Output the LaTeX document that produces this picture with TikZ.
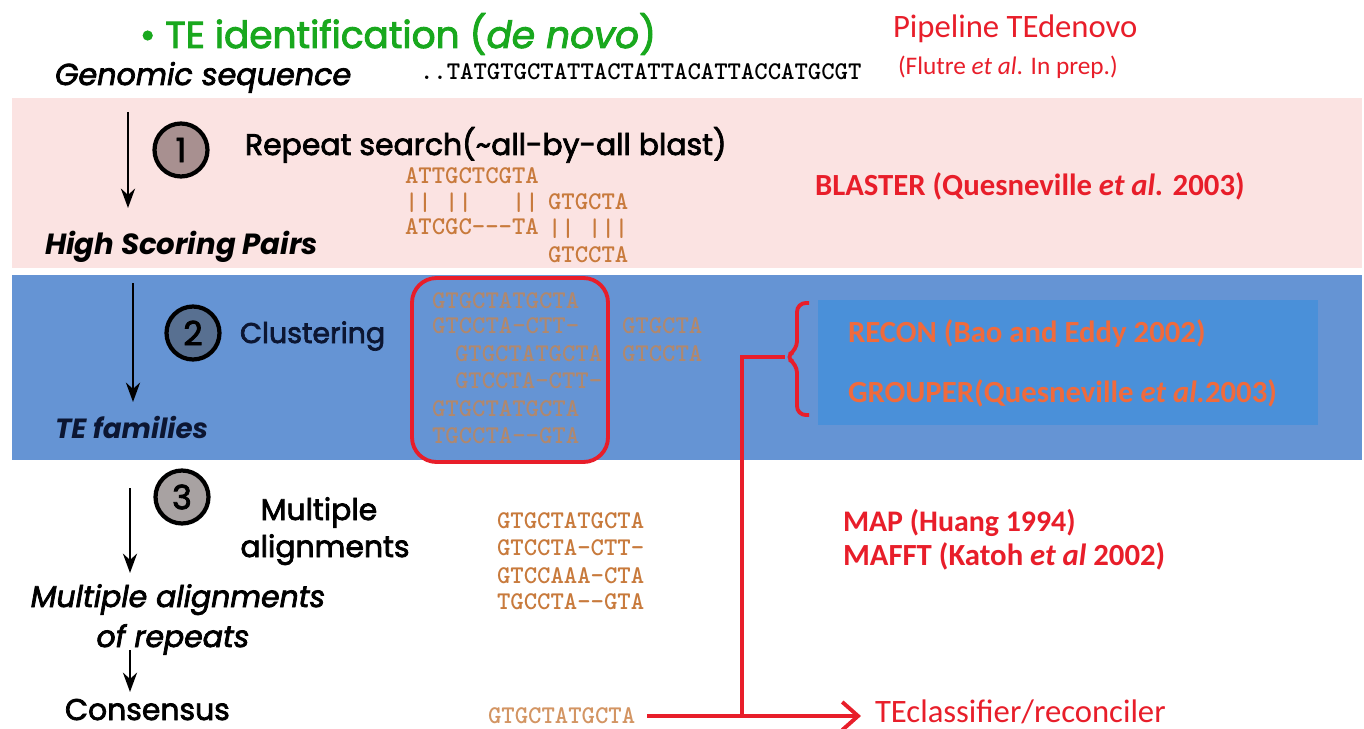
\documentclass[tikz,border=0pt]{standalone}
\usepackage{fontspec}
\setmainfont{Carlito}
\newfontfamily\gothic{Poppins}[FakeBold=2.5]
\newfontfamily\gothicplain{Poppins}
\usetikzlibrary{arrows.meta}
\definecolor{pinkband}{RGB}{251,227,226}
\definecolor{blueband}{RGB}{101,148,212}
\definecolor{innerblue}{RGB}{74,144,217}
\definecolor{titlegreen}{RGB}{25,168,30}
\definecolor{redc}{RGB}{232,30,42}
\definecolor{orangec}{RGB}{240,106,60}
\definecolor{seqc}{RGB}{200,122,60}
\definecolor{seqfade}{RGB}{176,136,110}
\definecolor{navy}{RGB}{12,22,50}
\definecolor{circA}{RGB}{168,144,144}
\definecolor{circB}{RGB}{88,112,145}
\definecolor{circC}{RGB}{168,162,162}
\tikzset{
  lbl/.style={anchor=base west, inner sep=0pt, outer sep=0pt},
  seqtxt/.style={lbl, font=\ttfamily\bfseries\fontsize{14.5}{16}\selectfont, text=seqc},
  steptxt/.style={lbl, font=\gothic\fontsize{17}{20}\selectfont},
  reftxt/.style={lbl, font=\bfseries\fontsize{17.5}{20}\selectfont, text=redc},
  stepnum/.style={circle, draw=black, line width=2.4pt, minimum size=1.06cm, inner sep=0pt, font=\gothic\fontsize{19}{20}\selectfont},
  darr/.style={line width=1.7pt, -{Stealth[length=11pt, width=8pt]}},
  redline/.style={draw=redc, line width=2.2pt},
}
\begin{document}
\begin{tikzpicture}[x=0.02cm, y=-0.02cm]
\useasboundingbox (0,0) rectangle (1364,729);
\fill[white] (0,0) rectangle (1364,729);
% bands
\fill[pinkband] (12,98) rectangle (1362,268);
\fill[blueband] (12,275) rectangle (1362,460);
\fill[innerblue] (818,300) rectangle (1318,425);

% header
\node[lbl, font=\gothic\fontsize{21.3}{24}\selectfont, text=titlegreen] (title) at (140,48) {• TE identification (\textit{de novo})};
\node[lbl, font=\gothic\itshape\fontsize{17.2}{20}\selectfont] (genseq) at (55,85) {Genomic sequence};
\node[seqtxt, text=black] (gseq) at (420,80) {..TATGTGCTATTACTATTACATTACCATGCGT};
\node[lbl, font=\fontsize{18.6}{20}\selectfont, text=redc] (pipe) at (893,38) {Pipeline TEdenovo};
\node[lbl, font=\fontsize{14.4}{16}\selectfont, text=redc] (flutre) at (898,75) {(Flutre \textit{et al}. In prep.)};

% step 1
\coordinate (a1s) at (128,112);
\coordinate (a1e) at (128,208);
\draw[darr] (a1s) -- (a1e);
\node[stepnum, fill=circA] (c1) at (181,150) {1};
\node[steptxt] (rs) at (245,155) {Repeat search(\char`\~all-by-all blast)};
\node[lbl, font=\gothicplain\bfseries\itshape\fontsize{16.6}{18}\selectfont] (hsp) at (45,255) {High Scoring Pairs};
\node[seqtxt] (s11) at (405,184) {ATTGCTCGTA};
\node[seqtxt] (s12) at (405,211) {|| ||~~~||};
\node[seqtxt] (s13) at (405,235) {ATCGC---TA};
\node[seqtxt] (s14) at (548,210) {GTGCTA};
\node[seqtxt] (s15) at (548,236) {||~|||};
\node[seqtxt] (s16) at (548,262) {GTCCTA};
\node[reftxt] (blaster) at (815,196) {BLASTER (Quesneville \textit{et al.} 2003)};

% step 2
\coordinate (a2s) at (133,283);
\coordinate (a2e) at (133,402);
\draw[darr] (a2s) -- (a2e);
\node[stepnum, fill=circB] (c2) at (193,333) {2};
\node[steptxt, font=\gothic\fontsize{16.2}{18}\selectfont, text=navy] (clu) at (240,343) {Clustering};
\node[lbl, font=\gothicplain\bfseries\itshape\fontsize{15.8}{18}\selectfont, text=navy] (tef) at (55,438) {TE families};
\draw[redc, line width=2.2pt, rounded corners=14pt] (412,278) rectangle (608,462);
\node[seqtxt, text=seqfade] (b1) at (432,308) {GTGCTATGCTA};
\node[seqtxt, text=seqfade] (b2) at (432,333) {GTCCTA-CTT-};
\node[seqtxt, text=seqfade] (b3) at (455,361) {GTGCTATGCTA};
\node[seqtxt, text=seqfade] (b4) at (455,388) {GTCCTA-CTT-};
\node[seqtxt, text=seqfade] (b5) at (432,416) {GTGCTATGCTA};
\node[seqtxt, text=seqfade] (b6) at (432,443) {TGCCTA--GTA};
\node[seqtxt, text=seqfade] (b7) at (622,333) {GTGCTA};
\node[seqtxt, text=seqfade] (b8) at (622,361) {GTCCTA};
\node[reftxt, text=orangec] (recon) at (848,342) {RECON (Bao and Eddy 2002)};
\node[reftxt, text=orangec] (grouper) at (848,402) {GROUPER(Quesneville \textit{et al.}2003)};
\coordinate (brace) at (785,357);
\draw[redline, rounded corners=5pt] (809,303) -- (797,303) -- (797,350) -- (brace) -- (797,364) -- (797,415) -- (809,415);

% step 3
\coordinate (a3s) at (130,488);
\coordinate (a3e) at (130,573);
\draw[darr] (a3s) -- (a3e);
\node[stepnum, fill=circC] (c3) at (182,497) {3};
\node[steptxt, anchor=base] (ma1) at (319,520) {Multiple};
\node[steptxt, anchor=base] (ma2) at (325,557) {alignments};
\node[lbl, anchor=base, font=\gothic\itshape\fontsize{17}{18}\selectfont] (mar1) at (178,607) {Multiple alignments};
\node[lbl, anchor=base, font=\gothic\itshape\fontsize{17}{18}\selectfont] (mar2) at (173,647) {of repeats};
\coordinate (a4s) at (130,650);
\coordinate (a4e) at (130,692);
\draw[darr] (a4s) -- (a4e);
\node[lbl, text depth=0pt, font=\gothic\fontsize{17}{18}\selectfont] (cons) at (65,720) {Consensus};
\node[seqtxt] (m1) at (497,528) {GTGCTATGCTA};
\node[seqtxt] (m2) at (497,555) {GTCCTA-CTT-};
\node[seqtxt] (m3) at (497,583) {GTCCAAA-CTA};
\node[seqtxt] (m4) at (497,609) {TGCCTA--GTA};
\node[reftxt, font=\bfseries\fontsize{17}{18}\selectfont] (map) at (843,531) {MAP (Huang 1994)};
\node[reftxt, font=\bfseries\fontsize{17.5}{18}\selectfont] (mafft) at (843,565) {MAFFT (Katoh \textit{et al} 2002)};

% consensus and red connector
\node[seqtxt, anchor=west, text=seqc!80] (cseq) at (488,716) {GTGCTATGCTA};
\node[lbl, text depth=0pt, font=\fontsize{18.6}{20}\selectfont, text=redc] (tecl) at (875,722) {TEclassifier/reconciler};
\coordinate (junc) at (742,716);
\draw[redline, -{Straight Barb[length=9pt, width=16pt, line width=2.2pt]}] ([xshift=7pt]cseq.east) -- ([xshift=-8pt]tecl.west |- cseq.east);
\draw[redline] (junc) -- (742,357) -- (brace);
\end{tikzpicture}
\end{document}
